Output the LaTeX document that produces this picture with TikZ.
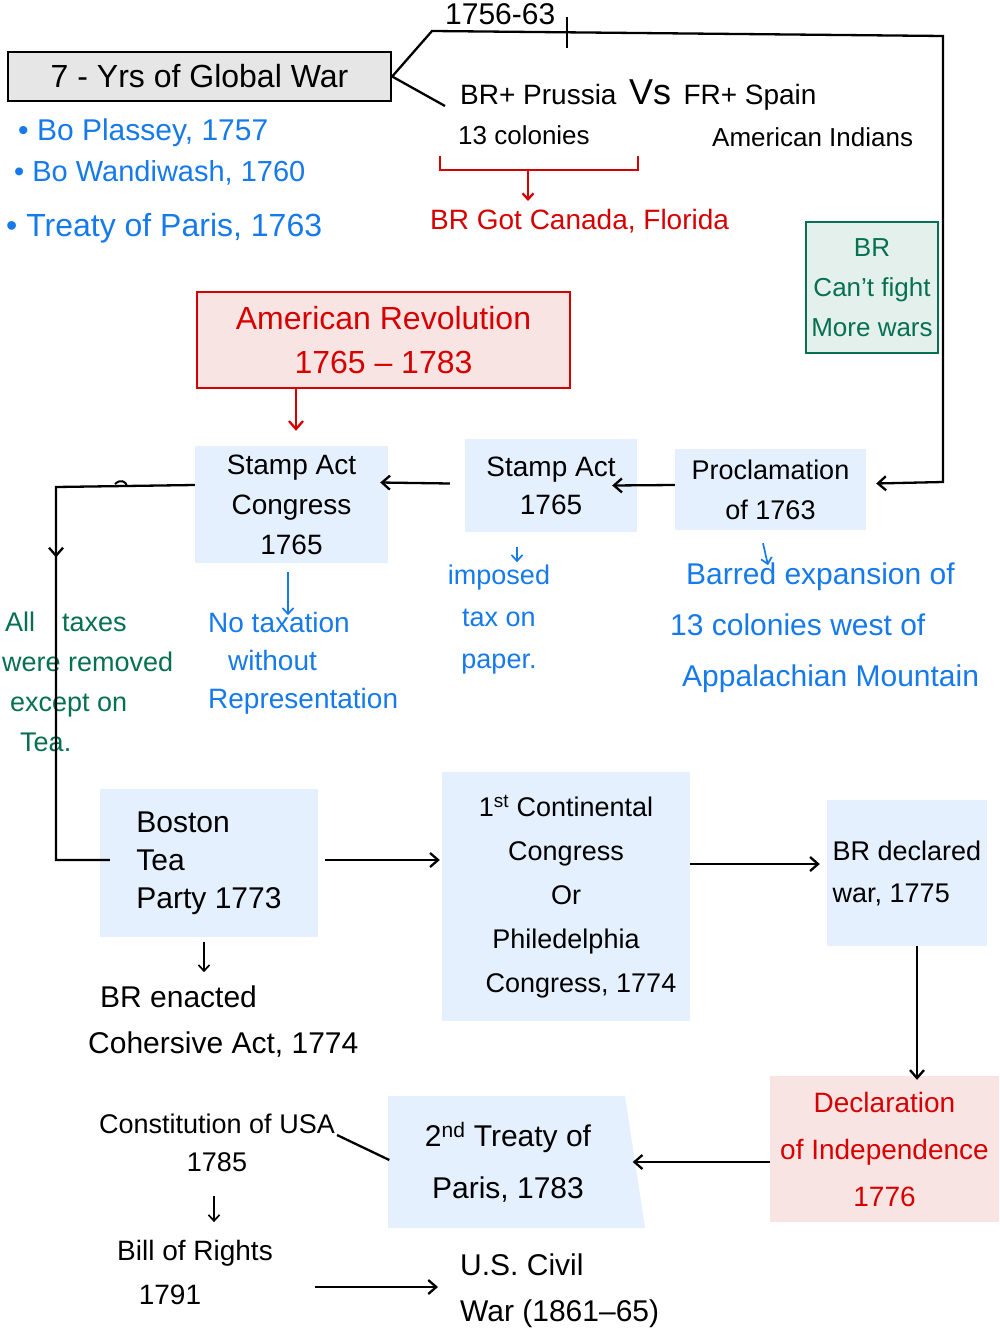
\documentclass[tikz,border=0pt]{standalone}
\usepackage{fontspec}
\setmainfont{Liberation Sans}
\usetikzlibrary{arrows.meta,decorations.markings,calc}
\definecolor{inkblue}{RGB}{22,122,234}
\definecolor{inkred}{RGB}{214,0,0}
\definecolor{inkgreen}{RGB}{6,112,82}
\definecolor{boxblue}{RGB}{228,240,253}
\definecolor{boxpink}{RGB}{249,228,228}
\definecolor{boxgray}{RGB}{230,230,230}
\definecolor{boxgreen}{RGB}{228,240,236}
\tikzset{
  hand/.style={inner sep=0pt, align=center},
  panel/.style={hand, fill=boxblue},
  fsz/.style 2 args={font=\fontsize{#1}{#2}\selectfont},
  plain/.style={line width=2.3pt},
  conn/.style={plain, -{Straight Barb[length=8pt,width=14pt]}},
  smallconn/.style={line width=1.7pt, -{Straight Barb[length=6pt,width=11pt]}},
}
\begin{document}
\begin{tikzpicture}[x=1pt,y=-1pt]
\useasboundingbox[fill=white] (0,0) rectangle (999,1337);

% ---------- nodes ----------
\node[hand, fsz={32}{38}, fill=boxgray, draw=black, line width=2.3pt,
      minimum width=383pt, minimum height=49pt] (war) at (199.5,76.5) {7 - Yrs of Global War};

\node[hand, anchor=west, fsz={30}{30}] (yrs) at (445,14) {1756-63};
\node[hand, anchor=west, fsz={28}{30}] (vs) at (460,95)
  {BR+ Prussia\, {\fontsize{36}{36}\selectfont Vs}\, FR+ Spain};
\node[hand, anchor=west, fsz={26}{30}] (col) at (458,135) {13 colonies};
\node[hand, anchor=west, fsz={26}{30}] (ind) at (712,137) {American Indians};
\node[hand, anchor=west, text=inkred, fsz={28}{30}] (gain) at (430,221) {BR Got Canada, Florida};

\node[hand, anchor=west, text=inkblue, fsz={30}{30}] (b1) at (18,133) {\textbullet\ Bo Plassey, 1757};
\node[hand, anchor=west, text=inkblue, fsz={29}{30}] (b2) at (14,173) {\textbullet\ Bo Wandiwash, 1760};
\node[hand, anchor=west, text=inkblue, fsz={32}{30}] (b3) at (6,228) {\textbullet\ Treaty of Paris, 1763};

\node[hand, fsz={26}{40}, text=inkgreen, fill=boxgreen, draw=inkgreen, line width=2.5pt,
      minimum width=132pt, minimum height=131pt] (cant) at (872,287.5) {BR\\Can't fight\\More wars};

\node[hand, fsz={32}{44}, text=inkred, fill=boxpink, draw=inkred, line width=2.5pt,
      minimum width=373pt, minimum height=96pt] (amrev) at (383.5,340) {American Revolution\\1765 -- 1783};

\node[panel, fsz={28}{40}, minimum width=193pt, minimum height=117pt] (sac) at (291.5,504.5) {Stamp Act\\Congress\\1765};
\node[panel, fsz={28}{38}, minimum width=172pt, minimum height=93pt] (sa) at (551,485.5) {Stamp Act\\1765};
\node[panel, fsz={27}{40}, minimum width=191pt, minimum height=81pt] (proc) at (770.5,489.5) {Proclamation\\of 1763};

\node[hand, text=inkblue, fsz={28}{38}, align=left, anchor=west] (notax) at (208,663)
  {No taxation\\\hspace*{20pt}without\\Representation};
\node[hand, text=inkblue, fsz={27}{42}] (imp) at (499,620) {imposed\\tax on\\paper.};
\node[hand, text=inkblue, fsz={30}{51}, align=left, anchor=west] (barred) at (670,628)
  {\hspace*{16pt}Barred expansion of\\13 colonies west of\\\hspace*{12pt}Appalachian Mountain};
\node[hand, text=inkgreen, fsz={27}{40}, align=left, anchor=west] (alltax) at (2,682)
  {\hspace*{3pt}All\quad taxes\\were removed\\\hspace*{8pt}except on\\\hspace*{18pt}Tea.};

\node[panel, fsz={30}{38}, align=left, minimum width=218pt, minimum height=148pt] (btp) at (209,863) {Boston\\Tea\\Party 1773};
\node[panel, fsz={27}{44}, minimum width=248pt, minimum height=249pt] (fcc) at (566,896.5)
  {1\textsuperscript{st} Continental\\Congress\\Or\\Philedelphia\\\hspace*{30pt}Congress, 1774};
\node[panel, fsz={27}{42}, align=left, minimum width=160pt, minimum height=146pt] (brw) at (907,873) {BR declared\\war, 1775};
\node[hand, fsz={28}{47}, text=inkred, fill=boxpink, minimum width=229pt, minimum height=146pt] (decl) at (884.5,1149)
  {Declaration\\of Independence\\1776};

\fill[boxblue] (388,1096) -- (625,1096) -- (645,1228) -- (388,1228) -- cycle;
\node[hand, fsz={30}{52}, minimum width=237pt, minimum height=132pt] (treaty) at (508,1162)
  {2\textsuperscript{nd} Treaty of\\Paris, 1783};

\node[hand, fsz={30}{46}, align=left, anchor=west] (enact) at (88,1022) {\hspace*{12pt}BR enacted\\Cohersive Act, 1774};
\node[hand, fsz={27}{38}] (const) at (217,1143) {Constitution of USA\\1785};
\node[hand, fsz={28}{44}] (bill) at (195,1272) {Bill of Rights\\\hspace*{-50pt}1791};
\node[hand, fsz={30}{46}, align=left, anchor=west] (civil) at (460,1291) {U.S. Civil\\War (1861--65)};

% ---------- helper coordinates ----------
\coordinate (k1) at (432,31);
\coordinate (k2) at (943,36);
\coordinate (k3) at (943,482);
\coordinate (vsend) at (445,106);
\coordinate (tickt) at (567,17);
\coordinate (tickb) at (567,48);
\coordinate (br1) at (440,156);
\coordinate (br2) at (440,170);
\coordinate (br3) at (638,170);
\coordinate (br4) at (638,156);
\coordinate (brm) at (528,170);
\coordinate (l1) at (56,487);
\coordinate (l2) at (56,860);
\coordinate (hk1) at (115,484);
\coordinate (hk2) at (127,486);

% ---------- connectors ----------
\draw[plain] (war.east) -- (vsend);
\draw[conn] (war.east) -- (k1) -- (k2) -- (k3) -- ($(proc.east)+(10,-6)$);
\draw[plain] (tickt) -- (tickb);

\draw[line width=2.3pt, inkred] (br1) -- (br2) -- (br3) -- (br4);
\draw[line width=2.3pt, inkred, -{Straight Barb[length=6pt,width=11pt]}] (brm) -- ($(brm)+(0,31)$);

\draw[conn, draw=inkred] ($(amrev.south)+(-87.5,0)$) -- ($(sac.north)+(4.5,-15)$);
\draw[conn] ($(proc.west)+(0,-4.5)$) -- ($(sa.east)+(-25,0)$);
\draw[conn] ($(sa.west)+(-15,-2)$) -- ($(sac.east)+(-8,-22)$);

\draw[smallconn, inkblue] ($(sac.south)+(-3.5,9)$) -- ($(sac.south)+(-3.5,52)$);
\draw[smallconn, inkblue] ($(sa.south)+(-34,15)$) -- ($(sa.south)+(-34,30)$);
\draw[smallconn, inkblue] ($(proc.south)+(-7.5,13)$) -- ($(proc.south)+(-2.5,35)$);

\draw[plain, postaction={decorate, decoration={markings,
      mark=at position 0.37 with {\arrow{Straight Barb[length=8pt,width=14pt]}}}}]
  ($(sac.west)+(0,-19.5)$) -- (l1) -- (l2) -- ($(btp.west)+(10,-3)$);
\draw[line width=2pt] (hk1) .. controls (120,479) and (126,481) .. (hk2);

\draw[conn] ($(btp.east)+(7,-3)$) -- ($(fcc.west)+(-2,-36.5)$);
\draw[conn] ($(fcc.east)+(0,-32.5)$) -- ($(brw.west)+(-7,-9)$);
\draw[conn] ($(brw.south)+(10,0)$) -- ($(decl.north)+(32.5,4)$);
\draw[conn] ($(decl.west)+(0,13)$) -- ($(treaty.east)+(6,0)$);
\draw[plain] ($(treaty.west)+(0,-2)$) -- ($(const.east)+(2,-8)$);
\draw[smallconn] ($(btp.south)+(-5,5)$) -- ($(btp.south)+(-5,35)$);
\draw[smallconn] ($(const.south)+(-3,24)$) -- ($(const.south)+(-3,50)$);
\draw[conn] ($(bill.east)+(42,15)$) -- ($(civil.west)+(-22,-4)$);
\end{tikzpicture}
\end{document}
